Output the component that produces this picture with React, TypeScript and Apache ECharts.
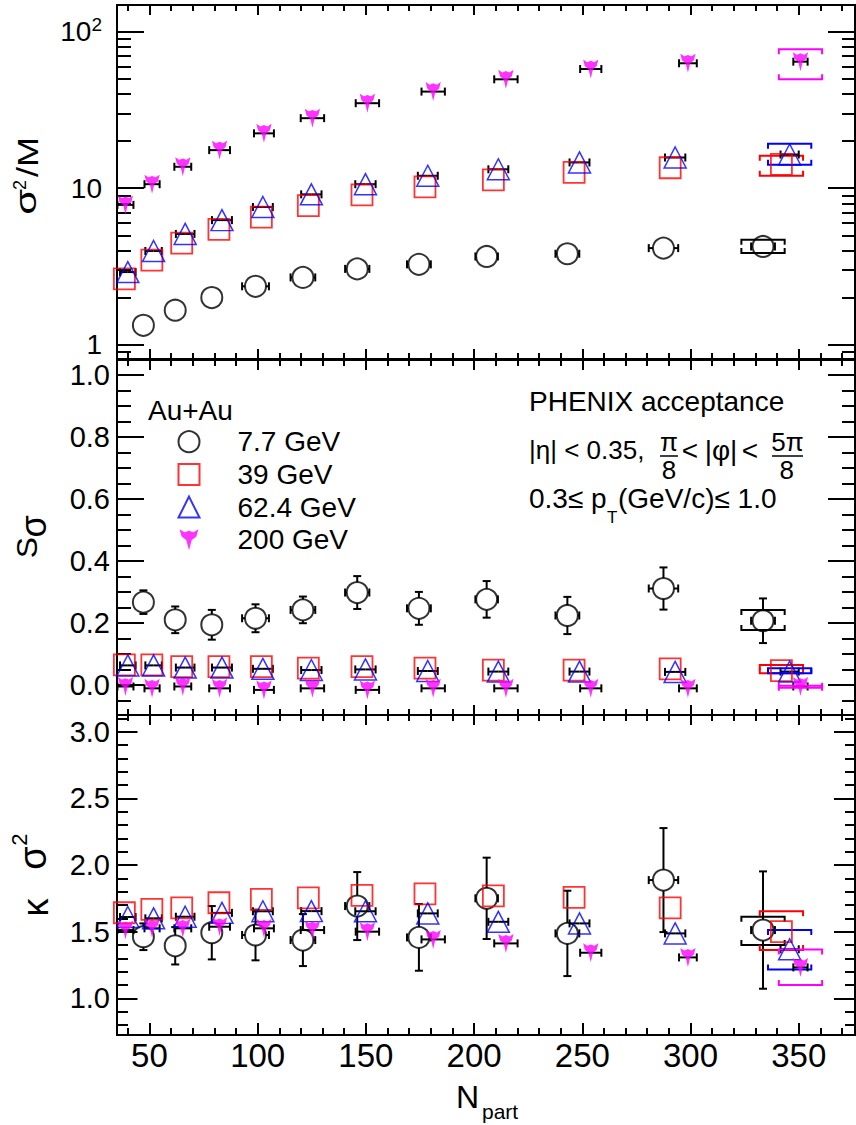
import React, { useEffect, useRef } from 'react';
import * as echarts from 'echarts';

const FONT = '"Liberation Sans", Arial, Helvetica, sans-serif';

// ---------- data ----------
const energyNames = ['7.7 GeV', '39 GeV', '62.4 GeV', '200 GeV'];
const energyColors = ['#000000', '#ff0000', '#0000ff', '#ff00ff'];

const npart77 = [47.2, 61.9, 78.8, 99.0, 120.9, 146.0, 174.5, 205.8, 243.1, 287.5, 333.5];
const npart39 = [38.4, 51.1, 64.9, 82.1, 101.7, 123.4, 148.2, 177.3, 208.9, 246.2, 290.6, 342.0];
const npart624 = [40.0, 51.9, 66.5, 83.5, 102.4, 124.8, 149.8, 178.6, 211.2, 248.7, 292.9, 345.8];
const npart200 = [38.9, 51.2, 65.4, 82.4, 102.9, 125.3, 150.7, 181.1, 214.7, 253.9, 298.8, 350.8];

const npartErr77 = [4.0, 4.2, 4.5, 6.2, 5.7, 5.6, 5.5, 5.2, 5.5, 6.8, 5.5];
const npartErr39 = [3.5, 3.8, 4.2, 4.5, 4.6, 4.6, 4.6, 4.6, 4.6, 4.6, 4.7, 4.2];
const npartErr624 = [3.6, 3.8, 4.3, 4.6, 4.6, 4.7, 4.7, 4.6, 4.6, 4.6, 4.7, 4.2];
const npartErr200 = [3.7, 3.5, 3.9, 4.8, 4.6, 5.4, 5.4, 5.4, 5.4, 4.9, 4.1, 3.3];

// sigma^2 / M
const s2m77 = [1.33, 1.66, 2.0, 2.36, 2.69, 3.05, 3.26, 3.66, 3.81, 4.14, 4.24];
const s2m39 = [2.63, 3.47, 4.46, 5.45, 6.53, 7.74, 9.06, 10.2, 11.3, 12.6, 13.5, 14.2];
const s2m624 = [2.91, 3.97, 5.1, 6.25, 7.58, 9.13, 10.6, 12.0, 13.2, 14.6, 15.7, 16.4];
const s2m200 = [7.82, 10.6, 13.7, 17.5, 22.4, 28.0, 34.9, 41.4, 49.6, 57.7, 62.8, 64.3];

// S sigma
const ss77 = [0.267, 0.21, 0.194, 0.215, 0.242, 0.298, 0.247, 0.276, 0.224, 0.311, 0.207];
const ssErr77 = [0.038, 0.043, 0.048, 0.045, 0.043, 0.053, 0.053, 0.059, 0.06, 0.068, 0.072];
const ss39 = [0.0645, 0.0645, 0.059, 0.059, 0.059, 0.054, 0.059, 0.054, 0.048, 0.048, 0.052, 0.046];
const ss624 = [0.063, 0.063, 0.056, 0.056, 0.052, 0.048, 0.05, 0.045, 0.043, 0.043, 0.042, 0.043];
const ss200 = [-0.005, -0.011, -0.005, -0.011, -0.016, -0.011, -0.016, -0.011, -0.011, -0.011, -0.011, -0.005];

// kappa sigma^2
const ks77 = [1.462, 1.394, 1.492, 1.475, 1.437, 1.692, 1.457, 1.75, 1.487, 1.887, 1.512];
const ksErr77 = [0.1, 0.14, 0.2, 0.19, 0.195, 0.255, 0.25, 0.305, 0.32, 0.39, 0.44];
const ks39 = [1.642, 1.667, 1.679, 1.717, 1.742, 1.754, 1.772, 1.784, 1.769, 1.757, 1.679, 1.5];
const ks624 = [1.61, 1.6, 1.612, 1.641, 1.653, 1.654, 1.653, 1.637, 1.574, 1.562, 1.487, 1.368];
const ks200 = [1.512, 1.525, 1.525, 1.537, 1.525, 1.512, 1.5, 1.442, 1.412, 1.342, 1.307, 1.232];

// systematic brackets on the most central point, [low, high], by energy
const sysS2M = [[3.85, 4.68], [12.0, 16.1], [14.1, 19.2], [49.6, 77.1]];
const sysSS = [[0.177, 0.242], [0.038, 0.0645], [0.038, 0.054], [-0.009, -0.003]];
const sysKS = [[1.40, 1.612], [1.362, 1.654], [1.217, 1.512], [1.10, 1.367]];
const sysNpartHalfWidth = 10;

// ticks
const xMajorTicks = [50, 100, 150, 200, 250, 300, 350];
const xMinorTicks = [40, 60, 70, 80, 90, 110, 120, 130, 140, 160, 170, 180, 190, 210, 220, 230, 240, 260, 270, 280, 290, 310, 320, 330, 340, 360, 370];
const s2mMajorTicks = [1, 10, 100];
const s2mMinorTicks = [0.9, 2, 3, 4, 5, 6, 7, 8, 9, 20, 30, 40, 50, 60, 70, 80, 90];
const ssMajorTicks = [0, 0.2, 0.4, 0.6, 0.8, 1.0];
const ssMinorTicks = [-0.05, 0.05, 0.1, 0.15, 0.25, 0.3, 0.35, 0.45, 0.5, 0.55, 0.65, 0.7, 0.75, 0.85, 0.9, 0.95];
const ksMajorTicks = [1.0, 1.5, 2.0, 2.5, 3.0];
const ksMinorTicks = [0.8, 0.9, 1.1, 1.2, 1.3, 1.4, 1.6, 1.7, 1.8, 1.9, 2.1, 2.2, 2.3, 2.4, 2.6, 2.7, 2.8, 2.9, 3.1];

const X_MIN = 35;
const X_MAX = 376;

// ---------- helpers ----------
const STAR_PATH = 'path://M0,0 L4.5,2.6 L8.5,1.2 L12.5,2.6 L17,0 L15.2,6.5 L11,9.6 L8.5,19 L6,9.6 L1.8,6.5 Z';
const symbols = ['circle', 'rect', 'triangle', STAR_PATH];
const symbolSizes: any[] = [21, 21, [22, 21], [17, 19]];
const itemStyles = [
  { color: 'rgba(0,0,0,0)', borderColor: '#000000', borderWidth: 2 },
  { color: 'rgba(0,0,0,0)', borderColor: '#ff0000', borderWidth: 1.8 },
  { color: 'rgba(0,0,0,0)', borderColor: '#0000ff', borderWidth: 1.5 },
  { color: '#ff00ff', borderWidth: 0 },
];
const gaps = [10.5, 10.5, 0, 0];

const npartByE = [npart77, npart39, npart624, npart200];
const npartErrByE = [npartErr77, npartErr39, npartErr624, npartErr200];
const panelValues = [
  [s2m77, s2m39, s2m624, s2m200],
  [ss77, ss39, ss624, ss200],
  [ks77, ks39, ks624, ks200],
];
const panelYErr: any[] = [
  [null, null, null, null],
  [ssErr77, null, null, null],
  [ksErr77, null, null, null],
];
const panelSys = [sysS2M, sysSS, sysKS];

function errSeries(g: number, e: number) {
  const xs = npartByE[e];
  const ys = panelValues[g][e];
  const xerr = npartErrByE[e];
  const yerr = panelYErr[g][e];
  const sys = panelSys[g][e];
  const color = energyColors[e];
  const gap = gaps[e];
  return {
    type: 'custom',
    name: 'err-' + g + '-' + e,
    xAxisIndex: g * 4,
    yAxisIndex: g * 4,
    data: xs.map((x, i) => [x, ys[i]]),
    z: 2,
    silent: true,
    renderItem: (params: any, api: any) => {
      const i = params.dataIndex;
      const x = xs[i];
      const y = ys[i];
      const c = api.coord([x, y]);
      const kids: any[] = [];
      const blk = { stroke: '#000', lineWidth: 2, fill: null };
      const ln = (x1: number, y1: number, x2: number, y2: number, st: any) =>
        kids.push({ type: 'line', shape: { x1, y1, x2, y2 }, style: st });
      const dx = api.coord([x + xerr[i], y])[0] - c[0];
      if (dx > gap) {
        ln(c[0] - dx, c[1], c[0] - gap, c[1], blk);
        ln(c[0] + gap, c[1], c[0] + dx, c[1], blk);
        ln(c[0] - dx, c[1] - 4, c[0] - dx, c[1] + 4, blk);
        ln(c[0] + dx, c[1] - 4, c[0] + dx, c[1] + 4, blk);
      }
      if (yerr) {
        const yt = api.coord([x, y + yerr[i]])[1];
        const yb = api.coord([x, y - yerr[i]])[1];
        if (c[1] - yt > gap) {
          ln(c[0], yt, c[0], c[1] - gap, blk);
          ln(c[0] - 4, yt, c[0] + 4, yt, blk);
        }
        if (yb - c[1] > gap) {
          ln(c[0], c[1] + gap, c[0], yb, blk);
          ln(c[0] - 4, yb, c[0] + 4, yb, blk);
        }
      }
      if (i === xs.length - 1) {
        const xl = api.coord([x - sysNpartHalfWidth, y])[0];
        const xr = api.coord([x + sysNpartHalfWidth, y])[0];
        const yh = api.coord([x, sys[1]])[1];
        const yl = api.coord([x, sys[0]])[1];
        const st = { stroke: color, lineWidth: 2, fill: null };
        kids.push({ type: 'polyline', shape: { points: [[xl, yh + 5], [xl, yh], [xr, yh], [xr, yh + 5]] }, style: st });
        kids.push({ type: 'polyline', shape: { points: [[xl, yl - 5], [xl, yl], [xr, yl], [xr, yl - 5]] }, style: st });
      }
      return { type: 'group', children: kids };
    },
  };
}

function markerSeries(g: number, e: number) {
  const xs = npartByE[e];
  const ys = panelValues[g][e];
  return {
    type: 'scatter',
    name: energyNames[e],
    xAxisIndex: g * 4,
    yAxisIndex: g * 4,
    data: xs.map((x, i) => [x, ys[i]]),
    symbol: symbols[e],
    symbolSize: symbolSizes[e],
    symbolKeepAspect: true,
    itemStyle: itemStyles[e],
    z: 3,
    silent: true,
  };
}

const tickLine = { color: '#000', width: 2 };

function xAxesFor(g: number, showLabels: boolean, majTop: number, minTop: number, majBot: number, minBot: number) {
  const base = {
    type: 'value', gridIndex: g, min: X_MIN, max: X_MAX,
    splitLine: { show: false }, axisLine: { show: false, onZero: false },
  };
  return [
    {
      ...base, position: 'bottom',
      axisTick: { show: true, inside: true, length: majBot, lineStyle: tickLine, customValues: xMajorTicks },
      axisLabel: showLabels
        ? { show: true, customValues: xMajorTicks, fontSize: 33, margin: 4, color: '#000', fontFamily: FONT }
        : { show: false },
    },
    { ...base, position: 'bottom', axisTick: { show: true, inside: true, length: minBot, lineStyle: tickLine, customValues: xMinorTicks }, axisLabel: { show: false } },
    { ...base, position: 'top', axisTick: { show: true, inside: true, length: majTop, lineStyle: tickLine, customValues: xMajorTicks }, axisLabel: { show: false } },
    { ...base, position: 'top', axisTick: { show: true, inside: true, length: minTop, lineStyle: tickLine, customValues: xMinorTicks }, axisLabel: { show: false } },
  ];
}

function yAxesFor(g: number, type: string, min: number, max: number, major: number[], minor: number[],
  majL: number, minL: number, majR: number, minR: number, label: any) {
  const base = {
    type, gridIndex: g, min, max,
    splitLine: { show: false }, axisLine: { show: false, onZero: false },
  };
  return [
    { ...base, position: 'left', axisTick: { show: true, inside: true, length: majL, lineStyle: tickLine, customValues: major }, axisLabel: label },
    { ...base, position: 'left', axisTick: { show: true, inside: true, length: minL, lineStyle: tickLine, customValues: minor }, axisLabel: { show: false } },
    { ...base, position: 'right', axisTick: { show: true, inside: true, length: majR, lineStyle: tickLine, customValues: major }, axisLabel: { show: false } },
    { ...base, position: 'right', axisTick: { show: true, inside: true, length: minR, lineStyle: tickLine, customValues: minor }, axisLabel: { show: false } },
  ];
}

function txt(text: string, x: number, y: number, fontSize: number, align = 'left', extra: any = {}) {
  return {
    type: 'text', x, y, z: 10, silent: true, ...extra,
    style: { text, fontSize, fontFamily: FONT, fill: '#000', align, verticalAlign: 'middle' },
  };
}
function rtxt(text: string, x: number, y: number, fontSize: number, scaleX = 1) {
  return txt(text, x, y, fontSize, 'center', { rotation: Math.PI / 2, scaleX });
}
function hline(x1: number, x2: number, y: number) {
  return { type: 'line', z: 10, silent: true, shape: { x1, y1: y, x2, y2: y }, style: { stroke: '#000', lineWidth: 1.5 } };
}

function buildOption() {
  const gridBase = { show: true, borderColor: '#000', borderWidth: 2, backgroundColor: 'transparent', containLabel: false, outerBoundsMode: 'none' };
  const grids = [
    { ...gridBase, left: 117, top: 5, width: 738, height: 354 },
    { ...gridBase, left: 117, top: 360, width: 738, height: 355 },
    { ...gridBase, left: 117, top: 715, width: 738, height: 320 },
  ];
  const xAxis = [
    ...xAxesFor(0, false, 10, 6, 10, 6),
    ...xAxesFor(1, false, 10, 6, 10, 6),
    ...xAxesFor(2, true, 10, 6, 12, 7),
  ];
  const lab = (margin: number) => ({
    show: true, fontSize: 29, margin, color: '#000', fontFamily: FONT,
  });
  const yAxis = [
    ...yAxesFor(0, 'log', 0.81, 148, s2mMajorTicks, s2mMinorTicks, 27, 14, 27, 13, {
      ...lab(15), fontSize: 28, customValues: s2mMajorTicks,
      formatter: (v: number) => (Math.abs(v - 100) < 1e-6 ? '{m|10}{sup|2}' : String(Math.round(v))),
      rich: { m: { fontSize: 28, lineHeight: 34, fontFamily: FONT }, sup: { fontSize: 19, lineHeight: 19, verticalAlign: 'top', fontFamily: FONT } },
    }),
    ...yAxesFor(1, 'value', -0.097, 1.048, ssMajorTicks, ssMinorTicks, 27, 14, 27, 13, {
      ...lab(7), customValues: ssMajorTicks, formatter: (v: number) => v.toFixed(1),
    }),
    ...yAxesFor(2, 'value', 0.725, 3.125, ksMajorTicks, ksMinorTicks, 20.5, 11, 21, 10, {
      ...lab(7), customValues: ksMajorTicks, formatter: (v: number) => v.toFixed(1),
    }),
  ];

  const series: any[] = [];
  for (let g = 0; g < 3; g++) {
    for (let e = 0; e < 4; e++) series.push(errSeries(g, e));
    for (let e = 0; e < 4; e++) series.push(markerSeries(g, e));
  }

  const graphic = [
    // y titles
    rtxt('σ', 26, 201.7, 30, 1.4),
    rtxt('2', 20, 185, 18),
    rtxt('/M', 27.5, 157, 30, 1.2),
    rtxt('S', 26.7, 547.5, 29, 1.1),
    rtxt('σ', 33, 526.5, 36),
    rtxt('κ', 35, 907.5, 36),
    rtxt('σ', 33, 858, 38),
    rtxt('2', 19, 839.5, 22),
    // x title
    txt('N', 467.5, 1096.5, 32, 'center'),
    txt('part', 482, 1111, 21),
    // legend header
    txt('Au+Au', 148, 410.8, 28),
    // annotation
    txt('PHENIX acceptance', 529, 401.7, 28),
    txt('|η| < 0.35,', 529, 450, 26),
    txt('π', 669, 441.5, 26, 'center'),
    hline(660, 678, 456),
    txt('8', 669, 470, 26, 'center'),
    txt('<', 690, 450, 28, 'center'),
    txt('|φ|', 721, 450, 28, 'center'),
    txt('<', 750, 450, 28, 'center'),
    txt('5π', 787.5, 441.5, 26, 'center'),
    hline(772, 803, 456),
    txt('8', 786.7, 470, 26, 'center'),
    txt('0.3≤ p', 529, 498, 28),
    txt('T', 607, 517, 17),
    txt('(GeV/c)≤ 1.0', 618, 498, 28),
  ];

  return {
    animation: false,
    backgroundColor: '#ffffff',
    textStyle: { fontFamily: FONT },
    grid: grids,
    xAxis,
    yAxis,
    legend: {
      data: energyNames,
      orient: 'vertical',
      left: 177.5,
      top: 425.35,
      padding: 0,
      itemGap: 0,
      itemWidth: 21,
      itemHeight: 21,
      selectedMode: false,
      textStyle: { fontSize: 28, fontFamily: FONT, color: '#000', lineHeight: 32.7, padding: [0, 0, 0, 33] },
    },
    graphic,
    series,
  };
}

export default function App() {
  const ref = useRef<HTMLDivElement>(null);
  useEffect(() => {
    const chart = echarts.init(ref.current as HTMLDivElement, null, { renderer: 'svg' });
    chart.setOption(buildOption() as any);
    return () => chart.dispose();
  }, []);
  return (
    <div
      ref={ref}
      style={{ position: 'fixed', left: 0, top: 0, width: 856, height: 1125, background: '#fff' }}
    />
  );
}
